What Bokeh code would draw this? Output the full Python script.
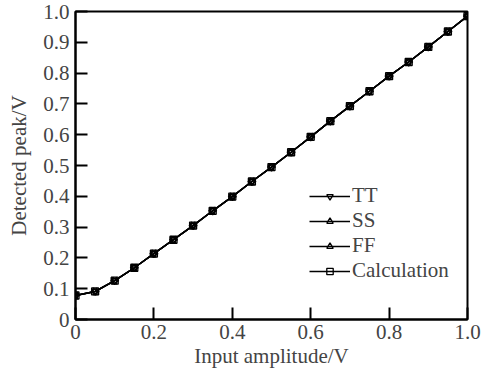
import math
from bokeh.plotting import figure
from bokeh.models import Range1d, FixedTicker, CustomJSTickFormatter, Legend, LegendItem
from bokeh.embed import file_html
from bokeh.resources import INLINE

x_vals = [0.0, 0.05, 0.10, 0.15, 0.20, 0.25, 0.30, 0.35, 0.40, 0.45, 0.50,
          0.55, 0.60, 0.65, 0.70, 0.75, 0.80, 0.85, 0.90, 0.95, 1.00]
tt_vals = [0.078, 0.091, 0.126, 0.168, 0.214, 0.259, 0.305, 0.353, 0.399, 0.448, 0.495,
           0.543, 0.593, 0.644, 0.693, 0.741, 0.790, 0.836, 0.885, 0.935, 0.985]
ss_vals = [0.078, 0.091, 0.126, 0.168, 0.214, 0.259, 0.305, 0.353, 0.399, 0.448, 0.495,
           0.543, 0.593, 0.644, 0.693, 0.741, 0.790, 0.836, 0.885, 0.935, 0.985]
ff_vals = [0.078, 0.091, 0.126, 0.168, 0.214, 0.259, 0.305, 0.353, 0.399, 0.448, 0.495,
           0.543, 0.593, 0.644, 0.693, 0.741, 0.790, 0.836, 0.885, 0.935, 0.985]
calc_vals = [0.078, 0.091, 0.126, 0.168, 0.214, 0.259, 0.305, 0.353, 0.399, 0.448, 0.495,
             0.543, 0.593, 0.644, 0.693, 0.741, 0.790, 0.836, 0.885, 0.935, 0.985]
series_names = ["TT", "SS", "FF", "Calculation"]
x_ticks = [0.0, 0.2, 0.4, 0.6, 0.8, 1.0]
y_ticks = [0.0, 0.1, 0.2, 0.3, 0.4, 0.5, 0.6, 0.7, 0.8, 0.9, 1.0]

FONT = "Liberation Serif"
FS = "21px"

p = figure(width=488, height=370, output_backend="svg", toolbar_location=None,
           x_range=Range1d(0, 1), y_range=Range1d(0, 1),
           min_border_left=75, min_border_right=21, min_border_top=11, min_border_bottom=50)
p.background_fill_color = "white"
p.border_fill_color = "white"
p.xgrid.visible = False
p.ygrid.visible = False
p.outline_line_color = "black"
p.outline_line_width = 2

fmt = CustomJSTickFormatter(code="return tick == 0 ? '0' : tick.toFixed(1);")
for ax, ticks, label in ((p.xaxis[0], x_ticks, "Input amplitude/V"),
                         (p.yaxis[0], y_ticks, "Detected peak/V")):
    ax.ticker = FixedTicker(ticks=ticks)
    ax.formatter = fmt
    ax.axis_label = label
    ax.axis_label_text_font = FONT
    ax.axis_label_text_font_size = FS
    ax.axis_label_text_font_style = "normal"
    ax.major_label_text_font = FONT
    ax.major_label_text_font_size = FS
    ax.axis_line_width = 2
    ax.major_tick_line_width = 2
    ax.major_tick_in = 12
    ax.major_tick_out = 0
    ax.minor_tick_line_color = None
p.xaxis[0].major_label_standoff = 5
p.xaxis[0].axis_label_standoff = 2
p.yaxis[0].major_label_standoff = 6
p.yaxis[0].axis_label_standoff = 9

markers = [("inverted_triangle", 0.0), ("triangle", -math.pi / 2), ("triangle", math.pi / 2), ("square", 0.0)]
all_vals = [tt_vals, ss_vals, ff_vals, calc_vals]
items = []
for name, vals, (mk, ang) in zip(series_names, all_vals, markers):
    ln = p.line(x_vals, vals, line_color="black", line_width=1.5)
    sc = p.scatter(x_vals, vals, marker=mk, angle=ang, size=7, line_color="black",
                   line_width=1.3, fill_color=None)
    items.append(LegendItem(label=name, renderers=[ln, sc]))

legend = Legend(items=items, location=(234, 36), border_line_color=None,
                background_fill_alpha=0, padding=0, margin=0, spacing=0,
                glyph_width=41, glyph_height=16, label_height=24, label_standoff=2,
                label_text_font=FONT, label_text_font_size=FS)
p.add_layout(legend, "center")

open("out.html", "w").write(file_html(p, INLINE))
